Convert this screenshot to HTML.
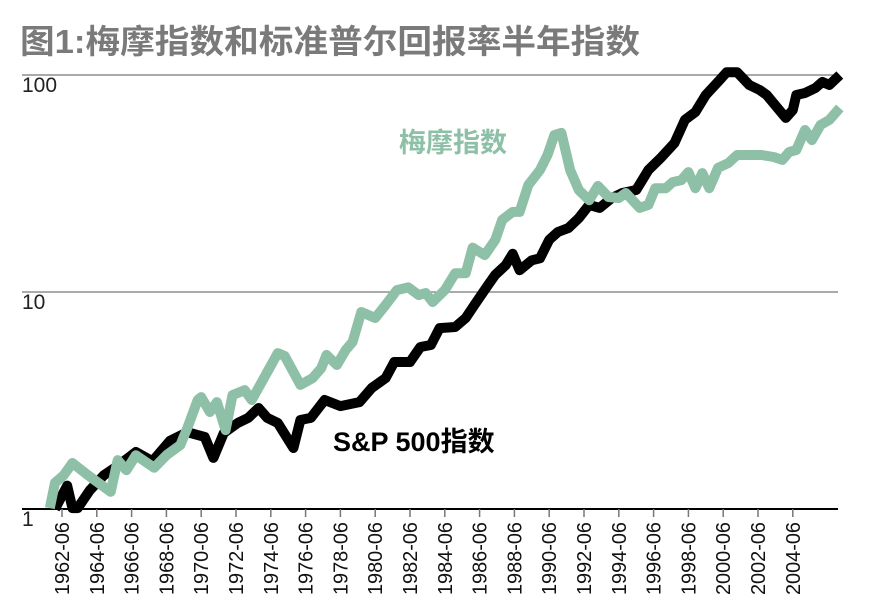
<!DOCTYPE html>
<html><head><meta charset="utf-8"><style>
html,body{margin:0;padding:0;background:#fff;}
svg{display:block;font-family:"Liberation Sans","Noto Sans CJK SC",sans-serif;}
</style></head><body>
<svg id="chart" width="870" height="607" viewBox="0 0 870 607">
<text x="20" y="53" font-size="33" font-weight="bold" fill="#7a7a7a" textLength="620" lengthAdjust="spacingAndGlyphs">图1:梅摩指数和标准普尔回报率半年指数</text>
<g id="grid"></g><g id="axes"></g><g id="series"></g>
<text x="399" y="152" font-size="27" font-weight="bold" fill="#8dc0a6">梅摩指数</text>
<text x="333" y="451" font-size="27" font-weight="bold" fill="#000">S&amp;P 500指数</text>
</svg>
<script>
const tickYears = [1962,1964,1966,1968,1970,1972,1974,1976,1978,1980,1982,1984,1986,1988,1990,1992,1994,1996,1998,2000,2002,2004];
const yTicks = [1,10,100];
const spYears = [1962.1,1962.8,1963.1,1963.4,1964.1,1964.9,1965.7,1966.75,1967.7,1968.7,1969.7,1970.7,1971.2,1971.8,1972.6,1973.2,1973.8,1974.3,1974.9,1975.8,1976.2,1976.8,1977.6,1978.5,1979.6,1980.3,1981.1,1981.6,1982.5,1983.1,1983.7,1984.2,1985.1,1985.7,1986.2,1987.0,1987.4,1988.0,1988.4,1988.8,1989.5,1989.97,1990.5,1991.0,1991.6,1992.2,1992.8,1993.4,1994.1,1994.7,1995.5,1996.2,1996.9,1997.7,1998.3,1998.9,1999.5,2000.3,2000.7,2001.3,2002.0,2002.6,2003.0,2004.1,2004.5,2004.7,2005.2,2005.8,2006.2,2006.6,2007.2];
const spValues = [1.00,1.28,1.01,1.01,1.22,1.43,1.58,1.83,1.66,2.06,2.26,2.15,1.72,2.24,2.49,2.63,2.92,2.63,2.49,1.91,2.57,2.63,3.18,2.98,3.11,3.61,4.01,4.76,4.76,5.58,5.70,6.82,6.90,7.59,8.71,10.8,12.0,13.3,15.0,12.6,14.0,14.3,17.4,18.9,19.7,21.9,25.2,24.4,27.1,28.6,29.5,36.5,41.4,48.6,62.1,67.5,80.9,94.8,103,103,89.9,85.3,80.9,63.4,69.0,80.9,82.6,87.1,92.9,89.9,100];
const memoYears = [1961.8,1962.1,1962.6,1963.1,1964.0,1965.3,1965.7,1966.2,1966.75,1967.8,1968.5,1969.3,1969.7,1970.3,1970.5,1971.0,1971.4,1971.9,1972.3,1973.0,1973.4,1974.2,1974.9,1975.3,1976.2,1976.9,1977.4,1977.7,1978.3,1978.8,1979.2,1979.7,1980.5,1981.1,1981.75,1982.4,1983.0,1983.4,1983.8,1984.5,1985.1,1985.7,1986.1,1986.8,1987.4,1987.8,1988.4,1988.8,1989.3,1989.97,1990.4,1990.8,1991.2,1991.7,1992.2,1992.8,1993.3,1993.9,1994.5,1994.9,1995.7,1996.2,1996.6,1997.2,1997.6,1998.1,1998.5,1998.9,1999.3,1999.7,2000.2,2000.8,2001.3,2002.7,2003.4,2003.9,2004.3,2004.7,2005.2,2005.6,2006.1,2006.6,2007.2];
const memoValues = [1.01,1.32,1.43,1.63,1.43,1.20,1.68,1.51,1.77,1.55,1.77,1.97,2.36,3.18,3.28,2.80,3.11,2.31,3.35,3.53,3.18,4.14,5.23,5.07,3.73,4.01,4.46,5.13,4.61,5.40,5.89,8.09,7.59,8.71,10.2,10.5,9.68,9.89,8.99,10.2,12.2,12.2,16.0,14.8,17.4,21.5,23.4,23.4,31.1,36.5,42.8,52.9,54.1,36.5,29.5,26.5,30.8,27.4,27.1,28.6,24.4,25.2,30.1,30.1,32.1,32.8,35.7,30.1,35.3,30.1,37.3,39.3,42.8,42.8,41.9,40.6,44.2,45.1,55.8,50.1,58.9,62.1,70.5];

const NS = "http://www.w3.org/2000/svg";
const X0 = 22, X1 = 838, Y1 = 509, DEC = 217;
function xs(yr){ return 62 + (yr - 1962.5) * 17.4; }
function ys(v){ return Y1 - DEC * Math.log10(v); }
function mk(tag, attrs, parent){ const e = document.createElementNS(NS, tag); for (const k in attrs) e.setAttribute(k, attrs[k]); parent.appendChild(e); return e; }

const grid = document.getElementById('grid');
const axes = document.getElementById('axes');
yTicks.forEach(v => {
  const y = ys(v);
  const ln = mk('line', {x1:X0, x2:X1, y1:y, y2:y, stroke: v===1 ? '#000' : '#777', 'stroke-width': v===1 ? 2 : 1.2}, grid);
  
  
  const t = mk('text', {x:22, y:y+17, 'font-size':21, fill:'#222'}, axes);
  t.textContent = v;
  
  
});
tickYears.forEach(yr => {
  const x = xs(yr + 0.5);
  const tk = mk('line', {x1:x, x2:x, y1:Y1, y2:Y1+8, stroke:'#777', 'stroke-width':1.5}, axes);
  
  
  const t = mk('text', {x:0, y:0, 'font-size':20, fill:'#111', 'text-anchor':'end', textLength:73, lengthAdjust:'spacingAndGlyphs', transform:'translate(' + (x+7) + ',' + (Y1+13) + ') rotate(-90)'}, axes);
  t.textContent = yr + '-06';
  
  
});

const ser = document.getElementById('series');
function path(yrs, vals){ return yrs.map((y,i) => (i ? 'L' : 'M') + xs(y).toFixed(1) + ',' + ys(vals[i]).toFixed(1)).join(' '); }
const sp = mk('path', {d:path(spYears, spValues), fill:'none', stroke:'#000', 'stroke-width':10, 'stroke-linejoin':'round', 'stroke-linecap':'butt'}, ser);


const memo = mk('path', {d:path(memoYears, memoValues), fill:'none', stroke:'#8dc0a6', 'stroke-width':10, 'stroke-linejoin':'round', 'stroke-linecap':'butt'}, ser);


</script>
</body></html>
